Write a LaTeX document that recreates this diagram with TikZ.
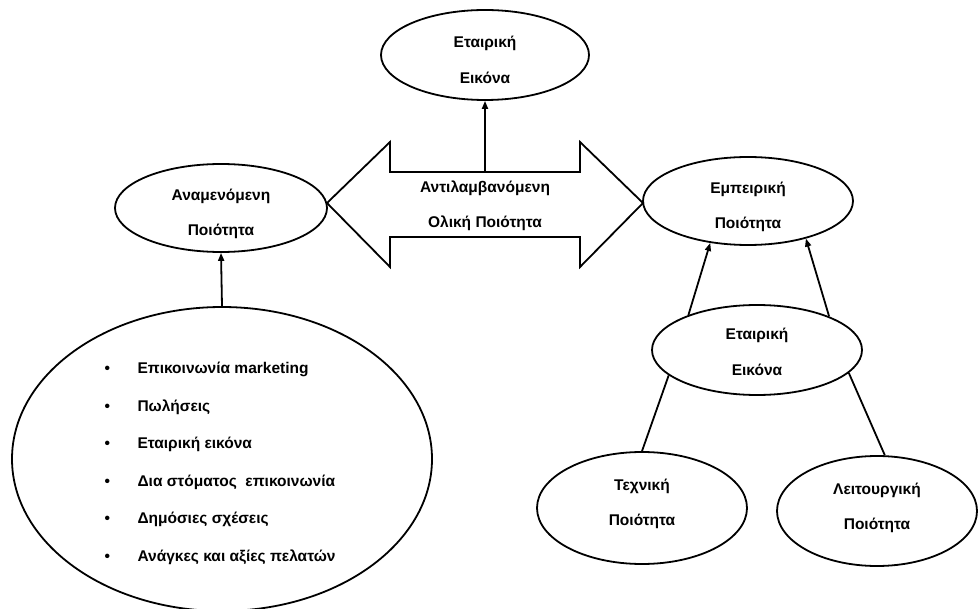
\documentclass[tikz,border=0pt]{standalone}
\usepackage{fontspec}
\setmainfont{Liberation Sans}
\usetikzlibrary{arrows.meta,shapes.geometric}
\begin{document}
\begin{tikzpicture}[x=1pt,y=-1pt,
  every node/.style={font=\bfseries\fontsize{15.5}{35.5}\selectfont},
  ell/.style={draw,ellipse,line width=1.8pt,inner sep=0pt},
  txt/.style={align=center,inner sep=0pt},
  conn/.style={line width=1.8pt},
  arr/.style={line width=1.8pt,-{Triangle[length=8pt,width=6pt]}}]
\clip (0,0) rectangle (979,609);
\fill[white] (0,0) rectangle (979,609);
% double arrow
\coordinate (la) at (327,203);
\coordinate (shafttop) at (485,172);
\draw[line width=1.8pt,line join=miter] (la) -- (390,142) -- (390,172) -- (580,172) -- (580,142) -- (643,203)
  -- (580,267) -- (580,237) -- (390,237) -- (390,267) -- cycle;
\node[txt] (total) at (485,206) {Αντιλαμβανόμενη\\Ολική Ποιότητα};
% ellipses
\node[ell,minimum width=208pt,minimum height=90pt] (top) at (485,55) {};
\node[txt] (topt) at ([yshift=-5pt]top.center) {Εταιρική\\Εικόνα};
\node[ell,minimum width=212pt,minimum height=88pt] (exp) at (221,208) {};
\node[txt] (expt) at ([yshift=-6pt]exp.center) {Αναμενόμενη\\Ποιότητα};
\node[ell,minimum width=210pt,minimum height=88pt] (emp) at (748,201) {};
\node[txt] (empt) at ([yshift=-6pt]emp.center) {Εμπειρική\\Ποιότητα};
\node[ell,minimum width=210pt,minimum height=90pt] (img) at (757,350) {};
\node[txt] (imgt) at ([yshift=-2pt]img.center) {Εταιρική\\Εικόνα};
\node[ell,minimum width=210pt,minimum height=112pt] (tech) at (642,508) {};
\node[txt] (techt) at ([yshift=4pt]tech.center) {Τεχνική\\Ποιότητα};
\node[ell,minimum width=200pt,minimum height=110pt] (func) at (877,511) {};
\node[txt] (funct) at ([yshift=3pt]func.center) {Λειτουργική\\Ποιότητα};
\node[ell,minimum width=420pt,minimum height=304pt] (big) at (222,459) {};
\node[txt,align=left,font=\bfseries\fontsize{15.5}{37.5}\selectfont] (list) at ([xshift=-2pt,yshift=-4.5pt]big.center) {%
\makebox[33pt][l]{\textbullet}Επικοινωνία marketing\\
\makebox[33pt][l]{\textbullet}Πωλήσεις\\
\makebox[33pt][l]{\textbullet}Εταιρική εικόνα\\
\makebox[33pt][l]{\textbullet}Δια στόματος \ επικοινωνία\\
\makebox[33pt][l]{\textbullet}Δημόσιες σχέσεις\\
\makebox[33pt][l]{\textbullet}Ανάγκες και αξίες πελατών};
% connectors
\draw[arr] (shafttop) -- (top.south);
\draw[arr] (big.north) -- (exp.south);
\draw[arr] (img.153) -- (emp.228);
\draw[arr] (img.25) -- (emp.327);
\draw[conn] (img.196) -- (tech.north);
\draw[conn] (img.346) -- (func.82);
\end{tikzpicture}
\end{document}
